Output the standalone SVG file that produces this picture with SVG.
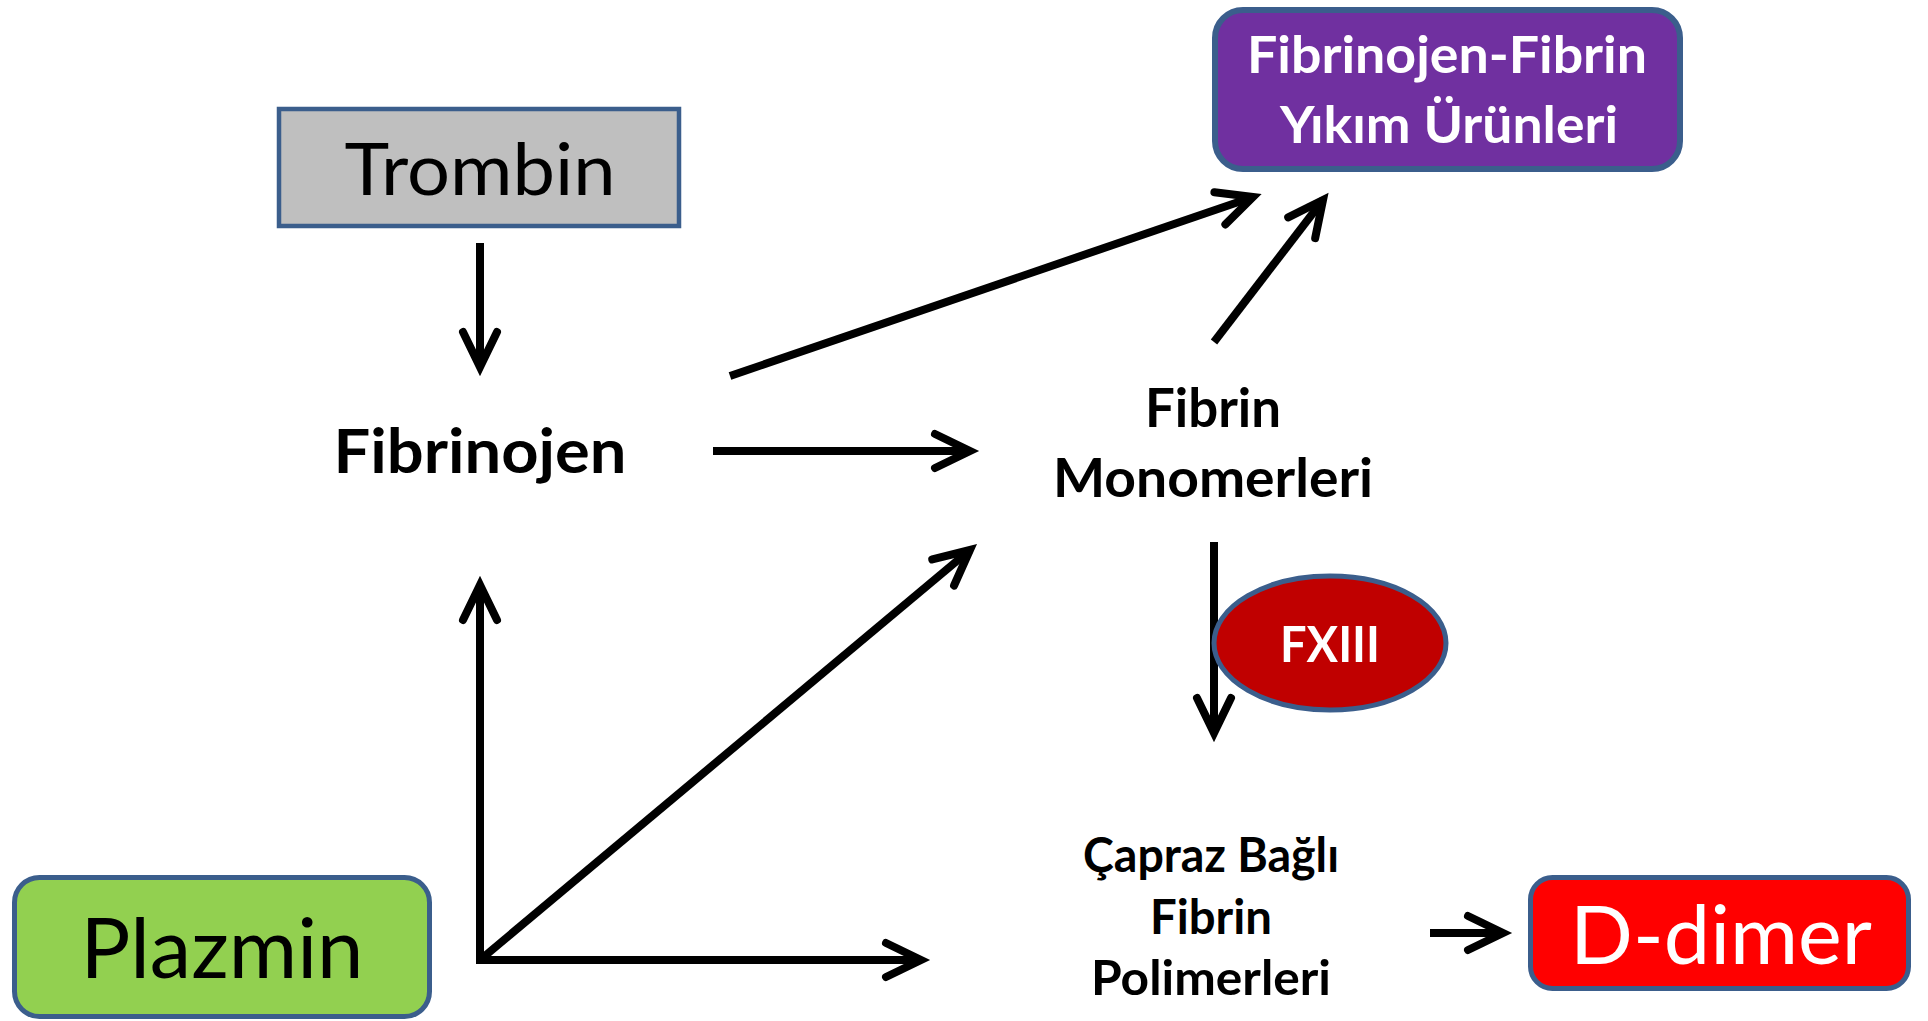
<svg xmlns="http://www.w3.org/2000/svg" width="1928" height="1021" viewBox="0 0 1928 1021">
  <style>
    .box { stroke: #3B5E8C; }
    .lbl { font-family: Lato, "Open Sans", "Liberation Sans", sans-serif; text-anchor: middle; }
    .b { font-weight: bold; }
    .wire { stroke: #000; stroke-width: 8; fill: none; marker-end: url(#head); }
  </style>
  <defs>
    <marker id="head" markerUnits="userSpaceOnUse" orient="auto" refX="0" refY="0"
            markerWidth="60" markerHeight="60" viewBox="-50 -30 60 60" overflow="visible">
      <path d="M -35 -17 L 0 0 L -35 17" fill="none" stroke="#000" stroke-width="8"
            stroke-linecap="round" stroke-linejoin="miter" stroke-miterlimit="10"/>
    </marker>
  </defs>

  <rect width="1928" height="1021" fill="#fff"/>

  <!-- connectors -->
  <g id="connectors">
    <line class="wire" x1="480" y1="243" x2="480" y2="367"/>
    <line class="wire" x1="713" y1="451" x2="970" y2="451"/>
    <line class="wire" x1="730" y1="376" x2="1253" y2="197"/>
    <line class="wire" x1="1214" y1="342" x2="1323" y2="200"/>
    <line class="wire" x1="1214" y1="542" x2="1214" y2="733"/>
    <line class="wire" x1="1430" y1="933" x2="1503" y2="933"/>
    <line class="wire" x1="480" y1="964" x2="480" y2="585"/>
    <line class="wire" x1="476" y1="960" x2="921" y2="960"/>
    <line class="wire" x1="480" y1="960" x2="970" y2="550"/>
  </g>

  <!-- nodes -->
  <g id="trombin">
    <rect class="box" x="279" y="109" width="400" height="117" fill="#BFBFBF" stroke-width="4.5"/>
    <text class="lbl" x="480" y="195" font-size="72" fill="#000" textLength="271" lengthAdjust="spacingAndGlyphs">Trombin</text>
  </g>

  <g id="yikim-urunleri">
    <rect class="box" x="1215" y="10" width="465" height="159" rx="28" fill="#7030A0" stroke-width="6"/>
    <text class="lbl b" x="1447" y="73" font-size="52" fill="#fff" textLength="400" lengthAdjust="spacingAndGlyphs">Fibrinojen-Fibrin</text>
    <text class="lbl b" x="1449" y="143" font-size="52" fill="#fff" textLength="338" lengthAdjust="spacingAndGlyphs">Yıkım Ürünleri</text>
  </g>

  <g id="fibrinojen">
    <text class="lbl b" x="480" y="473" font-size="62" fill="#000" textLength="293" lengthAdjust="spacingAndGlyphs">Fibrinojen</text>
  </g>

  <g id="fibrin-monomerleri">
    <text class="lbl b" x="1213" y="427" font-size="54" fill="#000" textLength="136" lengthAdjust="spacingAndGlyphs">Fibrin</text>
    <text class="lbl b" x="1213" y="497" font-size="54" fill="#000" textLength="320" lengthAdjust="spacingAndGlyphs">Monomerleri</text>
  </g>

  <g id="fxiii">
    <ellipse class="box" cx="1330" cy="643" rx="116" ry="67" fill="#C00000" stroke-width="5"/>
    <text class="lbl b" x="1330" y="662" font-size="50" fill="#fff" textLength="100" lengthAdjust="spacingAndGlyphs">FXIII</text>
  </g>

  <g id="capraz-bagli">
    <text class="lbl b" x="1211" y="872" font-size="47" fill="#000" textLength="256" lengthAdjust="spacingAndGlyphs">Çapraz Bağlı</text>
    <text class="lbl b" x="1211" y="934" font-size="47" fill="#000" textLength="122" lengthAdjust="spacingAndGlyphs">Fibrin</text>
    <text class="lbl b" x="1211" y="995" font-size="47" fill="#000" textLength="240" lengthAdjust="spacingAndGlyphs">Polimerleri</text>
  </g>

  <g id="plazmin">
    <rect class="box" x="14.5" y="877.5" width="415" height="139" rx="25" fill="#92D050" stroke-width="5"/>
    <text class="lbl" x="222" y="978" font-size="84" fill="#000" textLength="283" lengthAdjust="spacingAndGlyphs">Plazmin</text>
  </g>

  <g id="d-dimer">
    <rect class="box" x="1530.5" y="877.5" width="378" height="111" rx="22" fill="#FF0000" stroke-width="5"/>
    <text class="lbl" x="1721" y="964" font-size="82" fill="#fff" textLength="302" lengthAdjust="spacingAndGlyphs">D-dimer</text>
  </g>
</svg>
